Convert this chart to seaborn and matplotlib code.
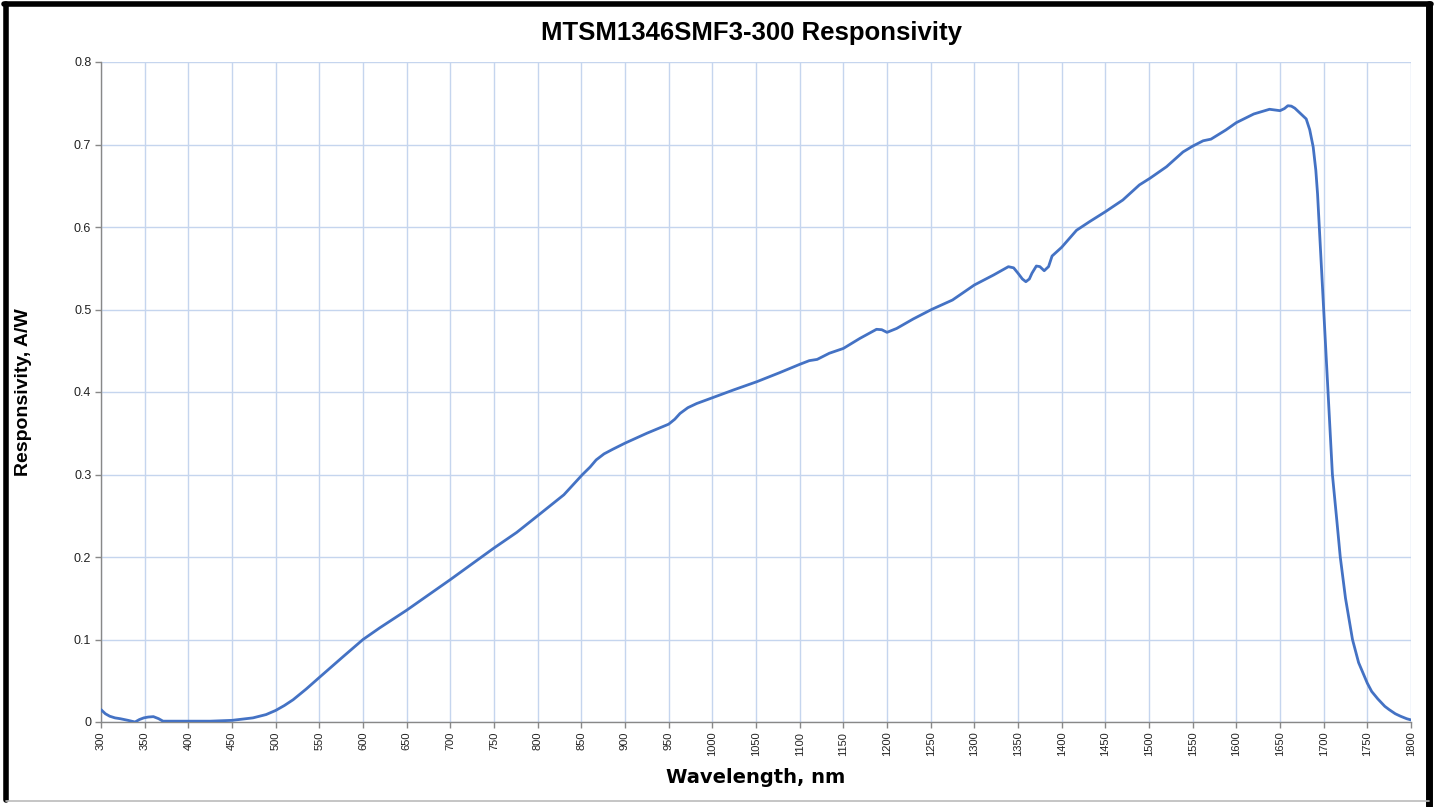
import matplotlib
matplotlib.use("Agg")
import matplotlib.pyplot as plt
import seaborn as sns
import pandas as pd
from matplotlib.lines import Line2D

wavelength = [300, 305, 310, 316, 322, 331, 339, 344, 349, 354, 360, 366, 371, 380, 400, 425, 450,
              474, 489, 500, 510, 520, 535, 550, 577, 600, 619, 650, 700, 750, 776, 800, 830, 851,
              860, 867, 876, 886, 900, 925, 950, 957, 963, 972, 982, 1000, 1024, 1051, 1077, 1100,
              1111, 1120, 1134, 1150, 1169, 1188, 1194, 1200, 1211, 1230, 1251, 1275, 1300, 1322,
              1339, 1345, 1350, 1355, 1359, 1363, 1366, 1371, 1375, 1380, 1385, 1389, 1400, 1417,
              1432, 1450, 1470, 1489, 1501, 1520, 1539, 1550, 1562, 1571, 1588, 1600, 1620, 1638,
              1650, 1655, 1659, 1663, 1667, 1674, 1680, 1684, 1688, 1691, 1693, 1695, 1698, 1700,
              1703, 1705, 1708, 1710, 1715, 1719, 1725, 1733, 1740, 1750, 1755, 1762, 1770, 1775,
              1782, 1788, 1795, 1800]
responsivity = [0.015, 0.010, 0.007, 0.005, 0.004, 0.002, 0.0, 0.003, 0.005, 0.006, 0.0065,
                0.004, 0.001, 0.001, 0.001, 0.001, 0.002, 0.005, 0.009, 0.014, 0.020, 0.027,
                0.040, 0.054, 0.079, 0.100, 0.114, 0.1355, 0.1726, 0.2109, 0.2298, 0.250, 0.2754,
                0.2996, 0.309, 0.3177, 0.325, 0.3306, 0.338, 0.350, 0.361, 0.367, 0.374, 0.381,
                0.386, 0.393, 0.4024, 0.4125, 0.4234, 0.4335, 0.438, 0.4395, 0.447, 0.4528, 0.465,
                0.476, 0.4755, 0.4723, 0.477, 0.4885, 0.500, 0.5115, 0.5297, 0.5418, 0.5519,
                0.5505, 0.5440, 0.5370, 0.5337, 0.537, 0.544, 0.5527, 0.552, 0.547, 0.552, 0.5648,
                0.5754, 0.596, 0.6065, 0.6185, 0.6327, 0.651, 0.659, 0.673, 0.691, 0.698, 0.7045,
                0.7065, 0.7176, 0.7265, 0.737, 0.7427, 0.741, 0.7435, 0.747, 0.7465, 0.744, 0.737,
                0.731, 0.718, 0.697, 0.669, 0.640, 0.600, 0.540, 0.500, 0.440, 0.400, 0.340,
                0.300, 0.245, 0.200, 0.150, 0.100, 0.072, 0.047, 0.037, 0.028, 0.019, 0.015, 0.010,
                0.007, 0.004, 0.0025]

x_ticks = list(range(300, 1801, 50))
y_ticks = [0, 0.1, 0.2, 0.3, 0.4, 0.5, 0.6, 0.7, 0.8]
y_tick_labels = ["0", "0.1", "0.2", "0.3", "0.4", "0.5", "0.6", "0.7", "0.8"]

df = pd.DataFrame({"Wavelength": wavelength, "Responsivity": responsivity})

sns.set_theme(style="white")
plt.rcParams["font.family"] = ["Liberation Sans", "DejaVu Sans"]

fig = plt.figure(figsize=(14.35, 8.07), dpi=100)
ax = fig.add_axes([101 / 1435, 1 - 722 / 807, 1310 / 1435, 660 / 807])

sns.lineplot(data=df, x="Wavelength", y="Responsivity", ax=ax, color="#4472C4",
             linewidth=2.0, zorder=3)

ax.set_xlim(300, 1800)
ax.set_ylim(0, 0.8)
ax.set_xticks(x_ticks)
ax.set_xticklabels([str(t) for t in x_ticks], rotation=90, fontsize=8, color="#222222")
ax.set_yticks(y_ticks)
ax.set_yticklabels(y_tick_labels, fontsize=9, color="#222222")
ax.grid(True, color="#c5d5ee", linewidth=1.0)
ax.set_axisbelow(True)
for side in ["top", "right"]:
    ax.spines[side].set_visible(False)
for side in ["left", "bottom"]:
    ax.spines[side].set_color("#888888")
    ax.spines[side].set_linewidth(1.0)
ax.tick_params(axis="both", which="both", length=4, width=1, color="#888888",
               direction="out", bottom=True, left=True, pad=3)

ax.set_xlabel("Wavelength, nm", fontsize=14, fontweight="bold", labelpad=8,
              family=["DejaVu Sans"], color="black")
ax.set_ylabel("Responsivity, A/W", fontsize=14, fontweight="bold", labelpad=30, color="black")
fig.text(752 / 1435, 1 - 33 / 807, "MTSM1346SMF3-300 Responsivity", ha="center", va="center",
         fontsize=18.5, fontweight="bold", color="black")

# outer frame: thick black on left, top, right; thin grey at bottom
W, H = 1435, 807
fig.add_artist(Line2D([6 / W, 6 / W], [1 - 800 / H, 1 - 4 / H], transform=fig.transFigure,
                      color="black", linewidth=4))
fig.add_artist(Line2D([4 / W, 1431 / W], [1 - 4 / H, 1 - 4 / H], transform=fig.transFigure,
                      color="black", linewidth=4))
fig.add_artist(Line2D([1429 / W, 1429 / W], [1 - 806 / H, 1 - 4 / H], transform=fig.transFigure,
                      color="black", linewidth=5))
fig.add_artist(Line2D([6 / W, 1429 / W], [1 - 801 / H, 1 - 801 / H], transform=fig.transFigure,
                      color="#bbbbbb", linewidth=1.2))

fig.savefig("out.png", dpi=100)
